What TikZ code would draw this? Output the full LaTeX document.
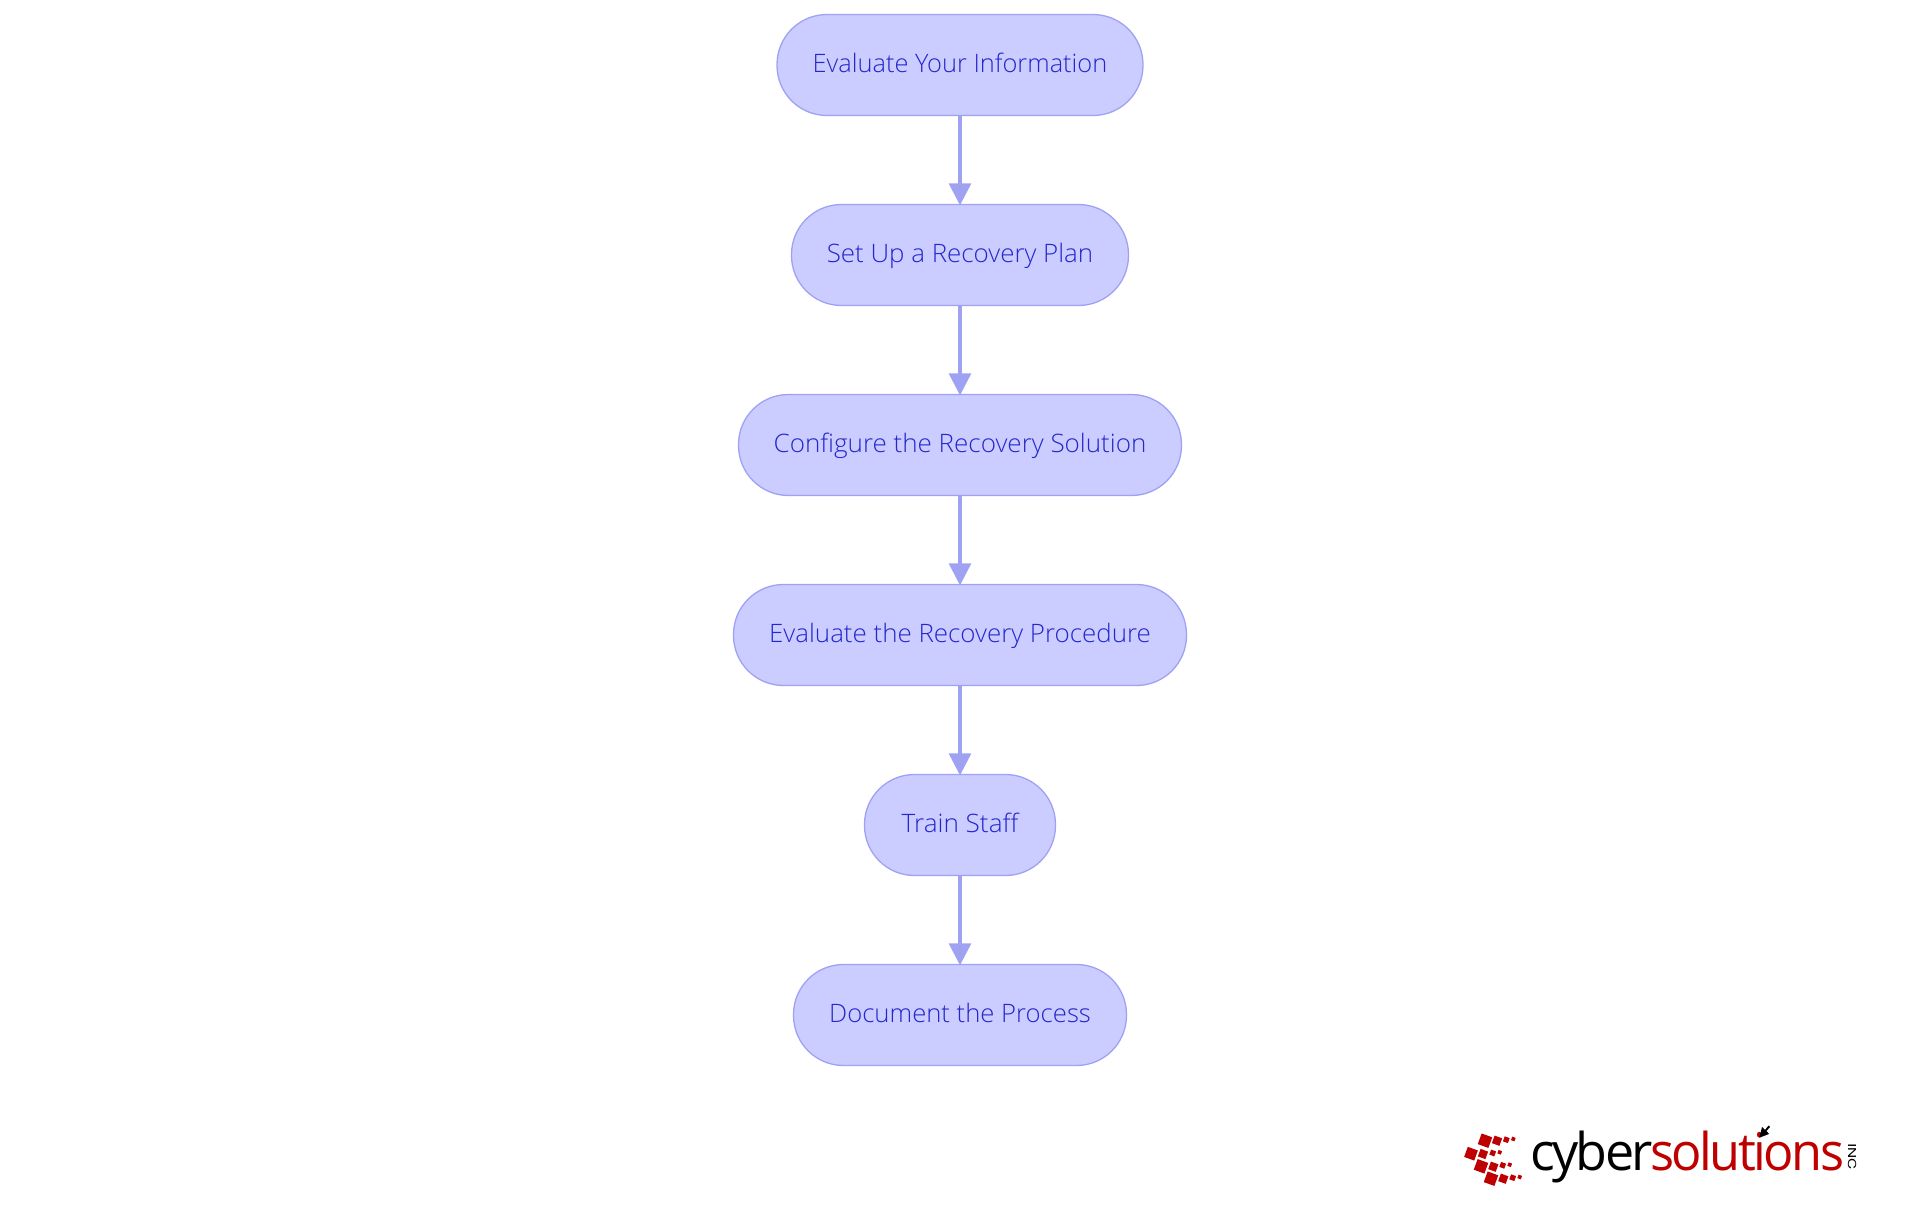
\documentclass[tikz,border=0pt]{standalone}
\usepackage{fontspec}
\setmainfont{Open Sans Light}
\newfontfamily\logofont[LetterSpace=-5]{Open Sans}
\newfontfamily\incfont{TeX Gyre Heros}
\usetikzlibrary{arrows.meta}
\definecolor{nodefill}{HTML}{CBCCFF}
\definecolor{nodeline}{HTML}{9FA2F2}
\definecolor{nodetext}{HTML}{2428CC}
\definecolor{logored}{HTML}{BE0000}
\tikzset{
  stepbox/.style={draw=nodeline,fill=nodefill,line width=1.3pt,rounded corners=50pt,
    minimum height=101pt,text=nodetext,outer sep=0pt,inner sep=0pt,
    text height=20pt,text depth=5pt,
    font=\fontsize{25.4}{28}\selectfont},
  link/.style={draw=nodeline,line width=3.2pt,shorten >=-0.8pt,-{Triangle[length=22pt,width=22pt,fill=nodeline]}},
  logoword/.style={inner sep=0pt,outer sep=0pt,anchor=base west,font=\logofont\fontsize{52}{60}\selectfont},
}
\begin{document}
\begin{tikzpicture}[x=1pt,y=-1pt]
\useasboundingbox (0,0) rectangle (1920,1215);
\node[stepbox,minimum width=366pt] (n1) at (960,65) {Evaluate Your Information};
\node[stepbox,minimum width=337pt] (n2) at (960,255) {\scalebox{1.02}[1]{Set Up a Recovery Plan}};
\node[stepbox,minimum width=443pt] (n3) at (960,445) {\scalebox{1.024}[1]{Configure the Recovery Solution}};
\node[stepbox,minimum width=453pt] (n4) at (960,635) {\scalebox{1.02}[1]{Evaluate the Recovery Procedure}};
\node[stepbox,minimum width=191pt] (n5) at (960,825) {\scalebox{1.03}[1]{Train Staff}};
\node[stepbox,minimum width=333pt] (n6) at (960,1015) {\scalebox{1.01}[1]{Document the Process}};
\draw[link] (n1) -- (n2);
\draw[link] (n2) -- (n3);
\draw[link] (n3) -- (n4);
\draw[link] (n4) -- (n5);
\draw[link] (n5) -- (n6);
% logo
\foreach \x/\y/\s in {
  1485/1140.7/11.3, 1497/1140.7/8, 1506.3/1139.7/5.3, 1513.3/1139/3.7,
  1471/1153.7/10.7, 1483/1154/8, 1492.7/1153/5.3, 1499.7/1152.3/3.7,
  1481/1166.3/11.3, 1493.3/1166.7/8, 1502.7/1165.3/5.3, 1509.7/1164.7/3.7,
  1491/1178.7/11.3, 1503.3/1178.7/8, 1512.7/1177.7/5.3, 1519.7/1177/3.7}
  \fill[logored,shift={(\x,\y)},rotate=-20] (-\s/2,-\s/2) rectangle (\s/2,\s/2);
\node[logoword] (cyber) at (1530,1170) {cyber};
\node[logoword,text=logored] (sol) at (1650,1170) {\scalebox{.97}[1]{solutions}};
\node[inner sep=0pt,rotate=-90,font=\incfont\fontsize{11}{12}\selectfont] (inc) at (1852,1156.5) {\scalebox{1.4}[1]{INC}};
\fill (1759.3,1137.7) -- (1762,1127) -- (1765,1130) -- (1768.5,1125.5) -- (1770,1127) -- (1766.5,1131) -- (1769,1134) -- cycle;
\end{tikzpicture}
\end{document}
